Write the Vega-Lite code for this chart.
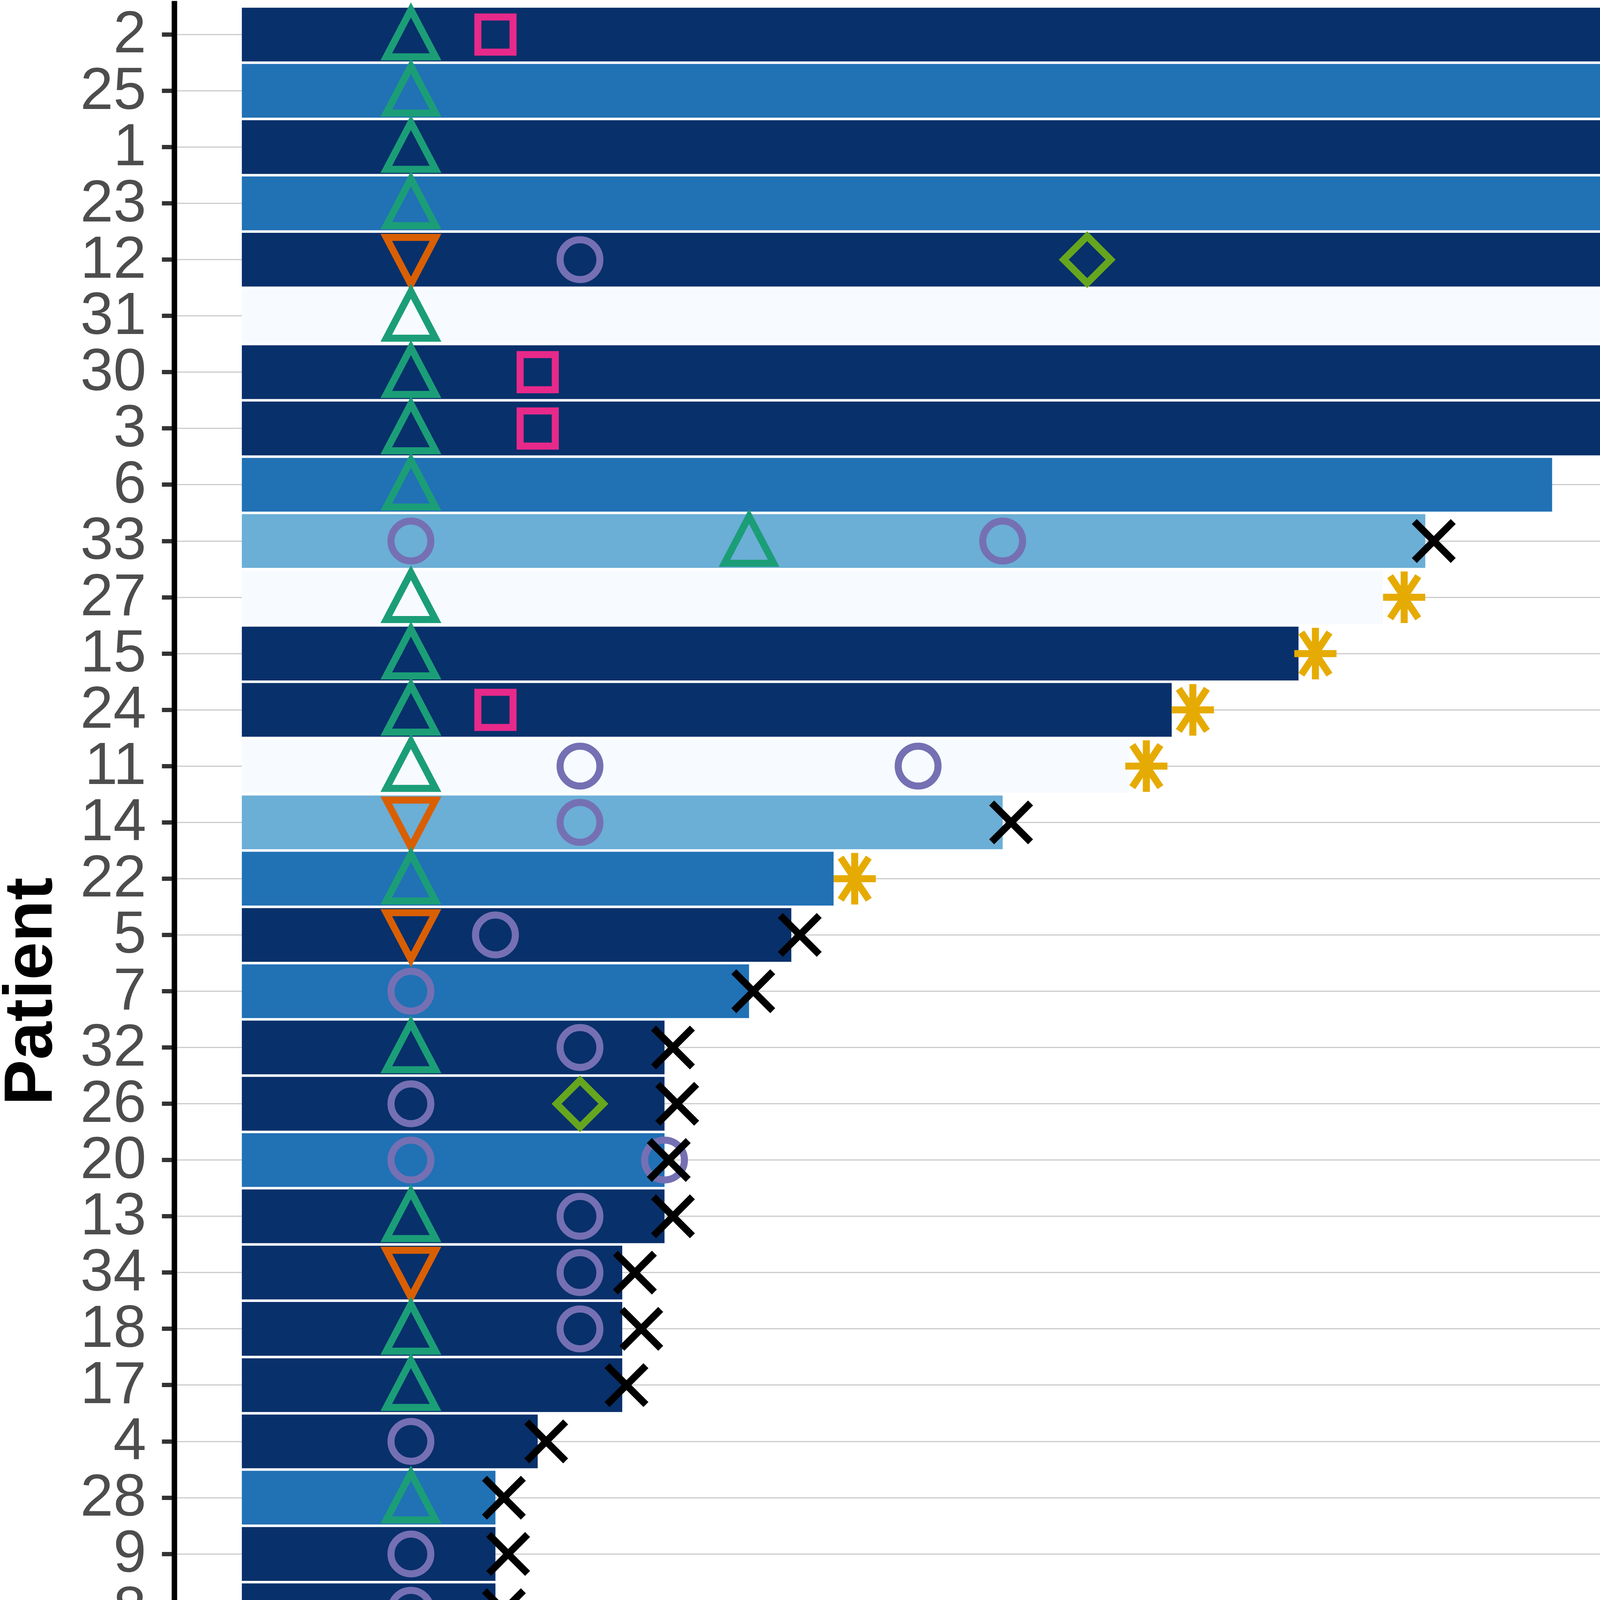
{
  "$schema": "https://vega.github.io/schema/vega-lite/v6.json",
  "width": 5659,
  "height": 5071,
  "autosize": "none",
  "padding": {"left": 446, "top": 2, "right": 1891, "bottom": 419},
  "background": "white",
  "config": {
    "view": {"stroke": null},
    "font": "Liberation Sans"
  },
  "datasets": {
    "bars": [
      {"patient": "2", "months": 49, "stage": "Stage IV"},
      {"patient": "25", "months": 47, "stage": "Stage III"},
      {"patient": "1", "months": 43, "stage": "Stage IV"},
      {"patient": "23", "months": 41, "stage": "Stage III"},
      {"patient": "12", "months": 36, "stage": "Stage IV"},
      {"patient": "31", "months": 35, "stage": "Stage I"},
      {"patient": "30", "months": 33, "stage": "Stage IV"},
      {"patient": "3", "months": 33, "stage": "Stage IV"},
      {"patient": "6", "months": 31, "stage": "Stage III"},
      {"patient": "33", "months": 28, "stage": "Stage II"},
      {"patient": "27", "months": 27, "stage": "Stage I"},
      {"patient": "15", "months": 25, "stage": "Stage IV"},
      {"patient": "24", "months": 22, "stage": "Stage IV"},
      {"patient": "11", "months": 21, "stage": "Stage I"},
      {"patient": "14", "months": 18, "stage": "Stage II"},
      {"patient": "22", "months": 14, "stage": "Stage III"},
      {"patient": "5", "months": 13, "stage": "Stage IV"},
      {"patient": "7", "months": 12, "stage": "Stage III"},
      {"patient": "32", "months": 10, "stage": "Stage IV"},
      {"patient": "26", "months": 10, "stage": "Stage IV"},
      {"patient": "20", "months": 10, "stage": "Stage III"},
      {"patient": "13", "months": 10, "stage": "Stage IV"},
      {"patient": "34", "months": 9, "stage": "Stage IV"},
      {"patient": "18", "months": 9, "stage": "Stage IV"},
      {"patient": "17", "months": 9, "stage": "Stage IV"},
      {"patient": "4", "months": 7, "stage": "Stage IV"},
      {"patient": "28", "months": 6, "stage": "Stage III"},
      {"patient": "9", "months": 6, "stage": "Stage IV"},
      {"patient": "8", "months": 6, "stage": "Stage IV"},
      {"patient": "29", "months": 5, "stage": "Stage III"},
      {"patient": "21", "months": 5, "stage": "Stage IV"},
      {"patient": "19", "months": 5, "stage": "Stage III"},
      {"patient": "16", "months": 5, "stage": "Stage II"},
      {"patient": "35", "months": 4, "stage": "Stage II"},
      {"patient": "10", "months": 3, "stage": "Stage II"}
    ],
    "events": [
      {"patient": "2", "t": 4, "event": "Complete response"},
      {"patient": "2", "t": 6, "event": "Auto-HSCT"},
      {"patient": "25", "t": 4, "event": "Complete response"},
      {"patient": "1", "t": 4, "event": "Complete response"},
      {"patient": "23", "t": 4, "event": "Complete response"},
      {"patient": "23", "t": 36, "event": "Progressive disease"},
      {"patient": "12", "t": 4, "event": "Partial response"},
      {"patient": "12", "t": 8, "event": "Progressive disease"},
      {"patient": "12", "t": 20, "event": "CAR-T Therapy"},
      {"patient": "31", "t": 4, "event": "Complete response"},
      {"patient": "30", "t": 4, "event": "Complete response"},
      {"patient": "30", "t": 7, "event": "Auto-HSCT"},
      {"patient": "3", "t": 4, "event": "Complete response"},
      {"patient": "3", "t": 7, "event": "Auto-HSCT"},
      {"patient": "6", "t": 4, "event": "Complete response"},
      {"patient": "33", "t": 4, "event": "Progressive disease"},
      {"patient": "33", "t": 12, "event": "Complete response"},
      {"patient": "33", "t": 18, "event": "Progressive disease"},
      {"patient": "33", "t": 28.2, "event": "Death"},
      {"patient": "27", "t": 4, "event": "Complete response"},
      {"patient": "27", "t": 27.5, "event": "BTKi Continued"},
      {"patient": "15", "t": 4, "event": "Complete response"},
      {"patient": "15", "t": 25.4, "event": "BTKi Continued"},
      {"patient": "24", "t": 4, "event": "Complete response"},
      {"patient": "24", "t": 6, "event": "Auto-HSCT"},
      {"patient": "24", "t": 22.5, "event": "BTKi Continued"},
      {"patient": "11", "t": 4, "event": "Complete response"},
      {"patient": "11", "t": 8, "event": "Progressive disease"},
      {"patient": "11", "t": 16, "event": "Progressive disease"},
      {"patient": "11", "t": 21.4, "event": "BTKi Continued"},
      {"patient": "14", "t": 4, "event": "Partial response"},
      {"patient": "14", "t": 8, "event": "Progressive disease"},
      {"patient": "14", "t": 18.2, "event": "Death"},
      {"patient": "22", "t": 4, "event": "Complete response"},
      {"patient": "22", "t": 14.5, "event": "BTKi Continued"},
      {"patient": "5", "t": 4, "event": "Partial response"},
      {"patient": "5", "t": 6, "event": "Progressive disease"},
      {"patient": "5", "t": 13.2, "event": "Death"},
      {"patient": "7", "t": 4, "event": "Progressive disease"},
      {"patient": "7", "t": 12.1, "event": "Death"},
      {"patient": "32", "t": 4, "event": "Complete response"},
      {"patient": "32", "t": 8, "event": "Progressive disease"},
      {"patient": "32", "t": 10.2, "event": "Death"},
      {"patient": "26", "t": 4, "event": "Progressive disease"},
      {"patient": "26", "t": 8, "event": "CAR-T Therapy"},
      {"patient": "26", "t": 10.3, "event": "Death"},
      {"patient": "20", "t": 4, "event": "Progressive disease"},
      {"patient": "20", "t": 10, "event": "Progressive disease"},
      {"patient": "20", "t": 10.1, "event": "Death"},
      {"patient": "13", "t": 4, "event": "Complete response"},
      {"patient": "13", "t": 8, "event": "Progressive disease"},
      {"patient": "13", "t": 10.2, "event": "Death"},
      {"patient": "34", "t": 4, "event": "Partial response"},
      {"patient": "34", "t": 8, "event": "Progressive disease"},
      {"patient": "34", "t": 9.3, "event": "Death"},
      {"patient": "18", "t": 4, "event": "Complete response"},
      {"patient": "18", "t": 8, "event": "Progressive disease"},
      {"patient": "18", "t": 9.45, "event": "Death"},
      {"patient": "17", "t": 4, "event": "Complete response"},
      {"patient": "17", "t": 9.1, "event": "Death"},
      {"patient": "4", "t": 4, "event": "Progressive disease"},
      {"patient": "4", "t": 7.2, "event": "Death"},
      {"patient": "28", "t": 4, "event": "Complete response"},
      {"patient": "28", "t": 6.2, "event": "Death"},
      {"patient": "9", "t": 4, "event": "Progressive disease"},
      {"patient": "9", "t": 6.3, "event": "Death"},
      {"patient": "8", "t": 4, "event": "Progressive disease"},
      {"patient": "8", "t": 6.2, "event": "Death"},
      {"patient": "29", "t": 4, "event": "Complete response"},
      {"patient": "29", "t": 5.2, "event": "Death"},
      {"patient": "21", "t": 4, "event": "Progressive disease"},
      {"patient": "21", "t": 5.3, "event": "Death"},
      {"patient": "19", "t": 4, "event": "Complete response"},
      {"patient": "19", "t": 5.2, "event": "Death"},
      {"patient": "16", "t": 4, "event": "Progressive disease"},
      {"patient": "16", "t": 5.1, "event": "Death"},
      {"patient": "35", "t": 4, "event": "Partial response"},
      {"patient": "35", "t": 4.4, "event": "Death"},
      {"patient": "10", "t": 3, "event": "Complete response"},
      {"patient": "10", "t": 3.5, "event": "Death"}
    ]
  },
  "encoding": {
    "y": {
      "field": "patient",
      "type": "nominal",
      "sort": ["2","25","1","23","12","31","30","3","6","33","27","15","24","11","14","22","5","7","32","26","20","13","34","18","17","4","28","9","8","29","21","19","16","35","10"],
      "scale": {"paddingInner": 0, "paddingOuter": 0.1},
      "axis": {
        "title": "Patient",
        "titleFontSize": 175,
        "titleFontWeight": "bold",
        "titleColor": "black",
        "titlePadding": 78,
        "titleLimit": 3000,
        "labelFontSize": 152,
        "labelColor": "#4d4d4d",
        "labelPadding": 40,
        "labelLimit": 500,
        "tickSize": 32,
        "tickWidth": 11,
        "tickColor": "#333333",
        "domainColor": "black",
        "domainWidth": 14,
        "grid": true,
        "gridColor": "#cccccc",
        "gridWidth": 3,
        "bandPosition": 0.5
      }
    }
  },
  "layer": [
    {
      "data": {"name": "bars"},
      "mark": {"type": "bar", "height": {"band": 0.955}},
      "encoding": {
        "x": {
          "field": "months",
          "type": "quantitative",
          "scale": {"domain": [-1.6, 50.7], "nice": false, "zero": false},
          "axis": {
            "title": "Time (months)",
            "titleFontSize": 175,
            "titleFontWeight": "bold",
            "titleColor": "black",
            "titlePadding": 30,
            "titleLimit": 3000,
            "values": [0, 5, 10, 15, 20, 25, 30, 35, 40, 45],
            "format": "d",
            "labelFontSize": 150,
            "labelColor": "#4d4d4d",
            "labelPadding": 30,
            "labelLimit": 500,
            "tickSize": 32,
            "tickWidth": 11,
            "tickColor": "#333333",
            "domainColor": "black",
            "domainWidth": 14,
            "grid": false
          }
        },
        "fill": {
          "field": "stage",
          "type": "nominal",
          "scale": {
            "domain": ["Stage I", "Stage II", "Stage III", "Stage IV"],
            "range": ["#f7fbff", "#6baed6", "#2171b5", "#08306b"]
          },
          "legend": {
            "title": "Disease Stage",
            "orient": "none",
            "legendX": 5949,
            "legendY": 3375,
            "direction": "vertical",
            "padding": 0,
            "titleFontSize": 155,
            "titleFontWeight": "bold",
            "titleColor": "black",
            "titlePadding": 56,
            "titleLimit": 3000,
            "labelFontSize": 115,
            "labelColor": "black",
            "labelOffset": 153,
            "labelLimit": 3000,
            "rowPadding": -28,
            "symbolType": "M-1,-1L1.716,-1L1.716,1L-1,1Z",
            "symbolSize": 59049,
            "symbolStrokeColor": "black",
            "symbolStrokeWidth": 5
          }
        }
      }
    },
    {
      "data": {"name": "events"},
      "mark": {"type": "point", "filled": false, "strokeWidth": 18, "size": 14400, "opacity": 1},
      "encoding": {
        "x": {"field": "t", "type": "quantitative"},
        "shape": {
          "field": "event",
          "type": "nominal",
          "scale": {
            "domain": ["Complete response", "Partial response", "Progressive disease", "Auto-HSCT", "CAR-T Therapy", "Death", "BTKi Continued"],
            "range": [
              "M0,-1.05L1.05,0.95L-1.05,0.95Z",
              "M0,1.05L1.05,-0.95L-1.05,-0.95Z",
              "M0.85,0A0.85,0.85 0 1,1 -0.85,0A0.85,0.85 0 1,1 0.85,0Z",
              "M-0.75,-0.75L0.75,-0.75L0.75,0.75L-0.75,0.75Z",
              "M0,-1L1,0L0,1L-1,0Z",
              "M-0.83,-0.83L0.83,0.83M0.83,-0.83L-0.83,0.83",
              "M0,-1.1L0,1.1M-0.9,0L0.9,0M-0.6,-0.9L0.6,0.9M-0.6,0.9L0.6,-0.9"
            ]
          },
          "legend": {
            "title": "Event Type",
            "orient": "none",
            "legendX": 5949,
            "legendY": 524,
            "direction": "vertical",
            "padding": 0,
            "titleFontSize": 160,
            "titleFontWeight": "bold",
            "titleColor": "black",
            "titlePadding": 130,
            "titleLimit": 3000,
            "labelFontSize": 140,
            "labelColor": "black",
            "labelOffset": 135,
            "labelLimit": 3000,
            "symbolOffset": 90,
            "rowPadding": 118,
            "symbolSize": 14400,
            "symbolStrokeWidth": 18
          }
        },
        "stroke": {
          "field": "event",
          "type": "nominal",
          "scale": {
            "domain": ["Complete response", "Partial response", "Progressive disease", "Auto-HSCT", "CAR-T Therapy", "Death", "BTKi Continued"],
            "range": ["#1b9e77", "#d95f02", "#7570b3", "#e7298a", "#66a61e", "#000000", "#e6ab02"]
          },
          "legend": {
            "title": "Event Type"
          }
        }
      }
    }
  ]
}
